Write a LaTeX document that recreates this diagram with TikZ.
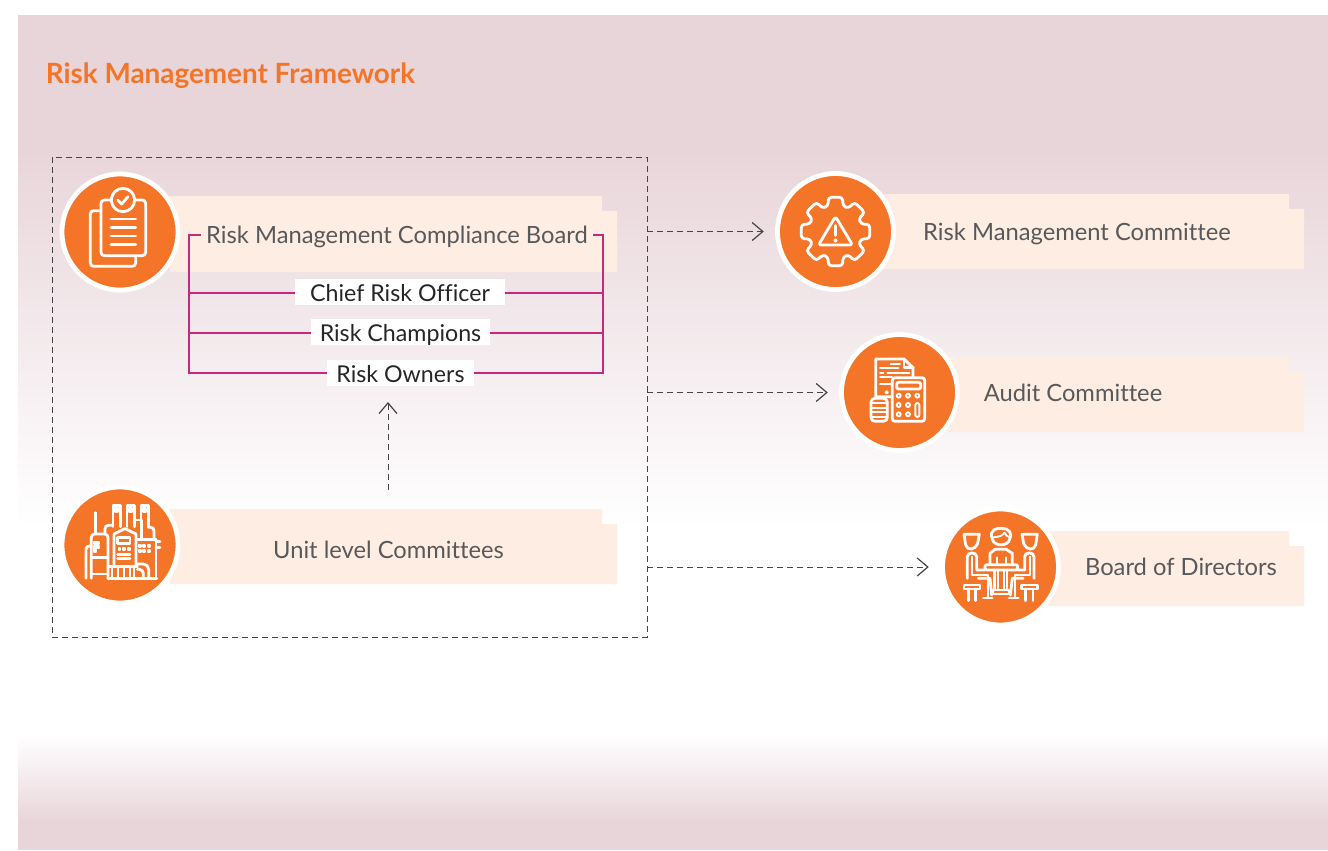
\documentclass[tikz,border=0pt]{standalone}
\usepackage{fontspec}
\setmainfont{Lato}[Ligatures=NoCommon]
\usetikzlibrary{arrows.meta}
\definecolor{panel}{HTML}{E8D5DA}
\definecolor{peach}{HTML}{FEEDE2}
\definecolor{orng}{HTML}{F47528}
\definecolor{mag}{HTML}{C7297F}
\definecolor{ink}{HTML}{58595B}
\definecolor{dash}{HTML}{454547}
\tikzset{
  x=0.75pt,y=-0.75pt,
  banner/.style={fill=peach,draw=none},
  disc/.style={circle,fill=orng,draw=white,line width=3.6pt,minimum size=87pt,inner sep=0pt},
  label/.style={text=ink,font=\fontsize{17.8}{20}\selectfont,inner sep=0pt,text height=13pt,text depth=1pt},
  rolebox/.style={fill=white,text=black!85,font=\fontsize{17.4}{20}\selectfont,inner sep=0pt,minimum height=19.5pt,text height=14.5pt,text depth=0pt},
  bus/.style={draw=mag,line width=0.82pt},
  framed/.style={draw=dash,line width=0.7pt,dash pattern=on 4.5pt off 3pt},
  link/.style={draw=dash,line width=0.7pt,dash pattern=on 4.5pt off 3pt,
    -{Straight Barb[length=8pt,width=13.5pt,line width=0.9pt]}},
  ic/.style={draw=white,line width=2.1pt,line join=round,line cap=round},
  icf/.style={draw=white,line width=1.4pt,line join=round,line cap=round},
  icon/.style={x=.25pt,y=-.25pt},
}
\begin{document}
\begin{tikzpicture}
\useasboundingbox (0,0) rectangle (1328,850);
\fill[white] (0,0) rectangle (1328,850);
% panel
\fill[panel] (18,15) rectangle (1328,151);
\shade[top color=panel,bottom color=white] (18,150) rectangle (1328,526);
\shade[top color=white,bottom color=panel] (18,735) rectangle (1328,822);
\fill[panel] (18,821) rectangle (1328,850);
% title
\node[anchor=west,inner sep=0pt,text=orng,font=\fontsize{20.9}{23}\selectfont\bfseries] (title) at (45.5,76) {Risk Management Framework};
% dashed frame
\node[framed,minimum width=446.25pt,minimum height=360pt,inner sep=0pt] (frame) at (349.5,397) {};
% banners
\fill[banner] (170,196) -- (602,196) -- (602,211) -- (617,211) -- (617,272) -- (170,272) -- cycle;
\fill[banner] (170,509) -- (602,509) -- (602,524) -- (617,524) -- (617,584) -- (170,584) -- cycle;
\fill[banner] (880,194) -- (1289,194) -- (1289,209) -- (1304,209) -- (1304,269) -- (880,269) -- cycle;
\fill[banner] (945,357) -- (1289,357) -- (1289,372) -- (1304,372) -- (1304,432) -- (945,432) -- cycle;
\fill[banner] (1045,531) -- (1289,531) -- (1289,546) -- (1304,546) -- (1304,606) -- (1045,606) -- cycle;
% discs
\node[disc] (d1) at (120,232) {};
\node[disc] (d2) at (120,545) {};
\node[disc] (d3) at (835.5,231.5) {};
\node[disc] (d4) at (899.5,392.5) {};
\node[disc] (d5) at (1000.5,567) {};
% labels
\node[label] (rmcb) at (397,235) {Risk Management Compliance Board};
\node[label] (unit) at (388.5,550) {Unit level Committees};
\node[label] (rmc) at (1077,232) {Risk Management Committee};
\node[label] (audit) at (1073,393) {Audit Committee};
\node[label] (bod) at (1181,567) {Board of Directors};
% magenta bus
\coordinate (tl) at (201,235);
\coordinate (tr) at (593,235);
\coordinate (bl) at (189,235);
\coordinate (br) at (603,235);
\node[rolebox,minimum width=157.5pt] (chief) at (400,292) {Chief Risk Officer};
\node[rolebox,minimum width=134pt] (champ) at (400.5,332) {Risk Champions};
\node[rolebox,minimum width=110pt] (owners) at (400.5,373) {Risk Owners};
\draw[bus] (tl) -- (bl) -- (bl |- owners.west) -- (owners.west);
\draw[bus] (tr) -- (br) -- (br |- owners.east) -- (owners.east);
\draw[bus] (chief.west |- 0,293) -- (bl |- 0,293);
\draw[bus] (chief.east |- 0,293) -- (br |- 0,293);
\draw[bus] (champ.west |- 0,333) -- (bl |- 0,333);
\draw[bus] (champ.east |- 0,333) -- (br |- 0,333);
% connectors
\draw[link,shorten >=8.5pt] (frame.east |- d3.west) -- (d3.west);
\draw[link,shorten >=8.5pt] (frame.east |- d4.west) -- (d4.west);
\draw[link,shorten >=8.5pt] (frame.east |- d5.west) -- (d5.west);
\coordinate (upfrom) at (388,490);
\coordinate (upto) at (388,402);
\draw[link] (upfrom) -- (upto);

% --- clipboard icon
\begin{scope}[shift={(40,150)},icon]
\draw[ic,rounded corners=2.5pt] (182,182) -- (151,182) -- (151,349) -- (287,349) -- (287,318);
\draw[ic,rounded corners=2.5pt] (215,150) -- (183,150) -- (183,317) -- (317,317) -- (317,150) -- (283,150);
\draw[ic,fill=orng] (249,150) circle[radius=35];
\draw[ic] (233,150) -- (245,162) -- (264,140);
\foreach \y in {207,232,258,284}{\draw[ic] (213,\y) -- (287,\y);}
\end{scope}

% --- factory icon
\begin{scope}[shift={(50,470)},icon]
\foreach \a in {189,231,273}{
  \draw[ic] (\a,170) -- (\a,107) -- (\a+22,107) -- (\a+22,170);
  \draw[icf,fill=white] (\a+6,113) rectangle (\a+16,125);
}
\draw[ic] (136,128) -- (136,190);
\draw[ic,rounded corners=2.5pt] (124,325) -- (124,192) -- (174,192) -- (174,325);
\draw[ic] (124,262) -- (174,262);
\draw[ic] (124,312) -- (174,312);
\draw[ic,rounded corners=2.5pt] (124,228) -- (108,228) -- (108,325);
\draw[icf,fill=white] (133,216) -- (147,216) -- (147,222) -- (133,222) -- cycle;
\draw[icf,fill=white] (133,228) -- (147,228) -- (147,234) -- (139,234) -- (139,246) -- (133,246) -- cycle;
\draw[ic,rounded corners=2.5pt] (165,190) -- (165,166) -- (189,166);
\draw[ic] (192,285) -- (192,192) -- (225,176) -- (258,192) -- (258,285);
\draw[ic] (203,202) rectangle (240,220);
\foreach \x in {206,220,234}{\draw[icf,fill=white] (\x,234) rectangle (\x+5,239);}
\draw[ic] (203,254) -- (240,254);
\draw[ic] (203,266) -- (240,266);
\draw[ic] (258,208) -- (318,208);
\draw[ic] (318,208) -- (318,325);
\draw[ic] (253,170) -- (253,150) -- (274,150) -- (274,208);
\draw[ic,rounded corners=2.5pt] (295,172) -- (312,172) -- (312,208);
\draw[ic] (318,215) -- (330,215);
\draw[ic] (318,232) -- (330,232);
\foreach \x in {266,280,294}{\foreach \y in {226,240}{\draw[icf,fill=white] (\x,\y) rectangle (\x+6,\y+5);}}
\draw[ic] (174,290) -- (262,290);
\draw[ic] (174,325) -- (320,325);
\foreach \x in {186,204,222,240,252}{\draw[ic] (\x,290) -- (\x,325);}
\draw[ic,rounded corners=4pt] (258,282) -- (296,282) -- (296,325);
\draw[ic,rounded corners=3pt] (262,298) -- (280,298) -- (280,325);
\end{scope}

% --- gear icon
\begin{scope}[shift={(835.5,231.5)}]
\draw[ic,rounded corners=2.5pt]
  (78:35) -- (102:35) -- (106:26.5)
  \foreach \a in {90,135,180,225,270,315,360}{
    -- (\a+29:26.5) -- (\a+33:35) -- (\a+57:35) -- (\a+61:26.5)
  } -- (74:26.5) -- cycle;
\draw[ic,rounded corners=2pt] (0,-15) -- (17,13.5) -- (-17,13.5) -- cycle;
\draw[ic] (0,-6) -- (0,4);
\fill[white] (0,9) circle[radius=2];
\end{scope}

% --- calculator icon
\begin{scope}[shift={(830,325)},icon]
\draw[ic] (186,215) -- (137,215) -- (137,102) -- (222,102) -- (249,128) -- (249,156);
\draw[ic] (222,102) -- (222,128) -- (249,128);
\draw[icf] (182,116) -- (210,116);
\draw[icf] (150,128) -- (205,128);
\draw[icf] (150,143) -- (160,143);
\draw[icf] (172,143) -- (238,143);
\draw[icf] (150,157) -- (186,157);
\draw[icf] (150,178) -- (186,178);
\fill[white] (170,202) circle[radius=6];
\draw[ic,rounded corners=2pt] (187,158) rectangle (284,289);
\draw[ic,rounded corners=1.5pt] (200,172) rectangle (272,192);
\foreach \x in {206,234,262}{\draw[icf] (\x,212) circle[radius=6];}
\foreach \x in {206,234}{\draw[icf] (\x,240) circle[radius=6];\draw[icf] (\x,268) circle[radius=6];}
\draw[icf,rounded corners=1.5pt] (256,234) rectangle (268,276);
\draw[ic,fill=orng,rounded corners=3pt] (123,220) rectangle (172,289);
\foreach \y in {234,248,262,276}{\draw[icf] (123,\y) -- (172,\y);}
\end{scope}

% --- board icon
\begin{scope}[shift={(935,500)},icon]
% centre person
\draw[ic] (172,118) .. controls (160,85) and (190,85) .. (197,85) .. controls (225,85) and (232,100) .. (224,118) .. controls (218,140) and (178,140) .. (172,118) -- cycle;
\draw[icf] (174,112) .. controls (190,112) and (205,106) .. (208,98) .. controls (212,106) and (218,110) .. (224,112);
\draw[ic] (165,190) -- (165,160) -- (180,148) -- (214,148) -- (232,160) -- (232,190);
\draw[icf] (185,172) -- (185,192);
\draw[icf] (212,172) -- (212,192);
% table
\draw[ic,rounded corners=1.5pt] (150,194) rectangle (248,210);
\draw[ic] (178,210) -- (178,270) ;
\draw[ic] (216,210) -- (216,270);
\draw[icf] (188,212) -- (188,268);
\draw[icf] (207,212) -- (207,268);
\draw[ic] (174,270) rectangle (222,282);
% left person
\draw[ic] (87,103) -- (133,103) -- (128,130) .. controls (118,152) and (98,152) .. (92,135) -- cycle;
\draw[ic] (97,235) -- (97,170) .. controls (97,155) and (125,155) .. (125,170) -- (125,210) -- (150,210);
\draw[icf] (110,170) -- (110,225) -- (158,225) -- (158,290);
\draw[ic] (130,235) -- (165,235) -- (170,285);
\draw[ic] (145,294) -- (172,294);
\draw[ic] (87,255) -- (135,255) -- (135,267) -- (87,267) -- cycle;
\draw[ic] (100,267) -- (100,302);
\draw[ic] (122,267) -- (122,302);
% right person
\draw[ic] (307,103) -- (261,103) -- (266,130) .. controls (276,152) and (296,152) .. (302,135) -- cycle;
\draw[ic] (297,235) -- (297,170) .. controls (297,155) and (269,155) .. (269,170) -- (269,210) -- (248,210);
\draw[icf] (284,170) -- (284,225) -- (240,225) -- (240,290);
\draw[ic] (264,235) -- (232,235) -- (226,285);
\draw[ic] (222,294) -- (250,294);
\draw[ic] (259,255) -- (307,255) -- (307,267) -- (259,267) -- cycle;
\draw[ic] (272,267) -- (272,302);
\draw[ic] (294,267) -- (294,302);
\end{scope}
\end{tikzpicture}
\end{document}
